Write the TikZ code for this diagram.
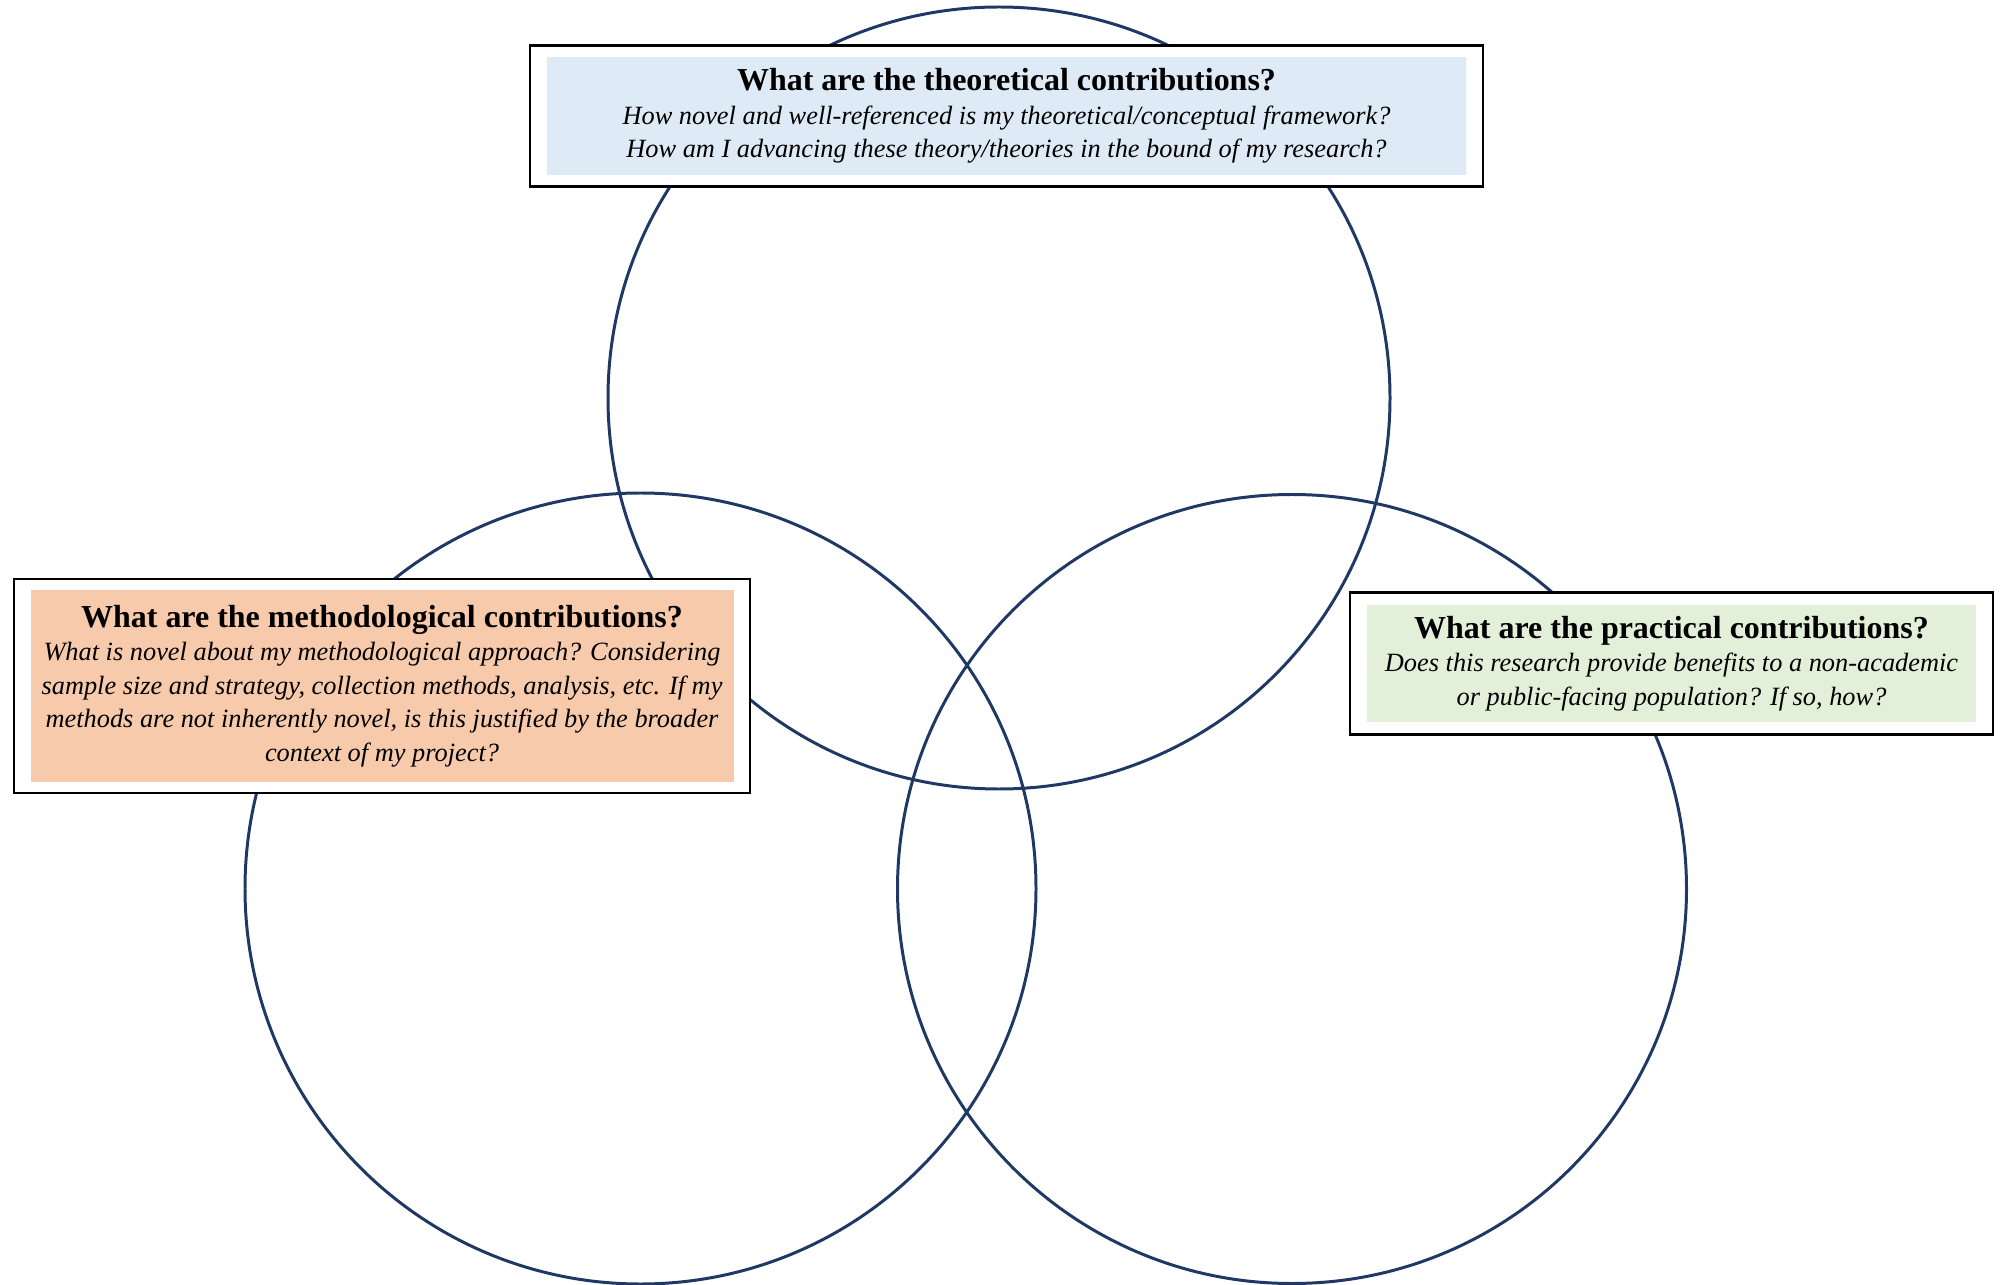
\documentclass[tikz,border=0pt]{standalone}
\usepackage{fontspec}
\setmainfont{Liberation Serif}
\usepackage{xcolor}
\usetikzlibrary{positioning}
\definecolor{vennnavy}{HTML}{1F3864}
\definecolor{theoblue}{HTML}{DEEAF6}
\definecolor{methpeach}{HTML}{F7CAAC}
\definecolor{pracgreen}{HTML}{E2EFD9}
\newcommand{\qhead}[1]{{\normalfont\bfseries\fontsize{9.1}{10}\selectfont #1}\\}

\begin{document}
\begin{tikzpicture}[
    ring/.style={draw=vennnavy,line width=0.85pt},
    qframe/.style={draw=black,line width=0.8pt,fill=white,inner sep=0pt},
    qbox/.style={inner sep=0pt,align=center,
      font=\fontsize{7.5}{9.5}\selectfont\itshape}
  ]
    \useasboundingbox (0,0) rectangle (20.03,-12.85);
    % circles
    \coordinate (cTheo) at (9.99,-3.98);
    \coordinate (cMeth) at (6.405,-8.885);
    \coordinate (cPrac) at (12.92,-8.89);
    \draw[ring] (cTheo) circle (3.91);
    \draw[ring] (cMeth) circle (3.955);
    \draw[ring] (cPrac) circle (3.945);
    % theoretical
    \node[qframe,minimum width=9.53cm,minimum height=1.405cm] (frmTheo) at (10.065,-1.16) {};
    \node[qbox,fill=theoblue,minimum width=9.19cm,minimum height=1.175cm] (boxTheo) at (frmTheo.center)
      {\qhead{What are the theoretical contributions?}
       How novel and well-referenced is my theoretical/conceptual framework?\\
       How am I advancing these theory/theories in the bound of my research?};
    % methodological
    \node[qframe,minimum width=7.36cm,minimum height=2.14cm] (frmMeth) at (3.82,-6.86) {};
    \node[qbox,fill=methpeach,minimum width=7.03cm,minimum height=1.92cm] (boxMeth) at (frmMeth.center)
      {\qhead{What are the methodological contributions?}
       What is novel about my methodological approach? Considering\\
       sample size and strategy, collection methods, analysis, etc. If my\\
       methods are not inherently novel, is this justified by the broader\\
       context of my project?};
    % practical
    \node[qframe,minimum width=6.43cm,minimum height=1.415cm] (frmPrac) at (16.715,-6.635) {};
    \node[qbox,fill=pracgreen,minimum width=6.09cm,minimum height=1.175cm] (boxPrac) at (frmPrac.center)
      {\qhead{What are the practical contributions?}
       Does this research provide benefits to a non-academic\\
       or public-facing population? If so, how?};
\end{tikzpicture}
\end{document}
